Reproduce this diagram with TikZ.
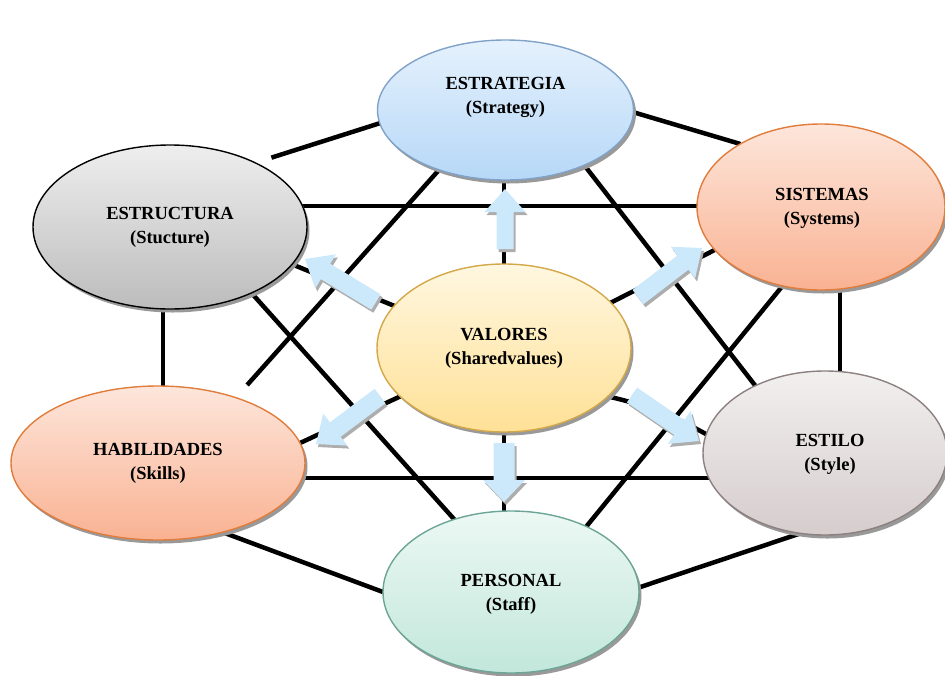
\documentclass[tikz,border=0pt]{standalone}
\usepackage{fontspec}
\setmainfont{Liberation Serif}
\usetikzlibrary{shapes.geometric,calc,shadows}

% fills and outlines of the seven ellipses
\definecolor{strtop}{RGB}{229,241,253}
\definecolor{strbot}{RGB}{182,216,247}
\definecolor{strline}{RGB}{128,162,200}
\definecolor{orgtop}{RGB}{253,230,219}
\definecolor{orgbot}{RGB}{249,178,146}
\definecolor{orgline}{RGB}{224,124,60}
\definecolor{grytop}{RGB}{238,238,238}
\definecolor{grybot}{RGB}{188,188,188}
\definecolor{valtop}{RGB}{255,247,224}
\definecolor{valbot}{RGB}{255,225,150}
\definecolor{valline}{RGB}{212,168,72}
\definecolor{esltop}{RGB}{242,239,239}
\definecolor{eslbot}{RGB}{214,205,205}
\definecolor{eslline}{RGB}{140,128,128}
\definecolor{pertop}{RGB}{236,248,244}
\definecolor{perbot}{RGB}{194,231,219}
\definecolor{perline}{RGB}{108,165,150}
\definecolor{flowblue}{RGB}{204,233,252}

% block arrow: #1 tail, #2 tip, #3 half shaft width, #4 half head width, #5 head length
\newcommand{\flowarrow}[5]{%
  \coordinate (fa-base) at ($(#2)!#5!(#1)$);
  \fill[flowshade, transform canvas={shift={(2pt,-3pt)}}]
    ($(#1)!#3!90:(#2)$) -- ($(fa-base)!#3!90:(#2)$) -- ($(fa-base)!#4!90:(#2)$) -- (#2)
    -- ($(fa-base)!#4!-90:(#2)$) -- ($(fa-base)!#3!-90:(#2)$) -- ($(#1)!#3!-90:(#2)$) -- cycle;
  \fill[flow]
    ($(#1)!#3!90:(#2)$) -- ($(fa-base)!#3!90:(#2)$) -- ($(fa-base)!#4!90:(#2)$) -- (#2)
    -- ($(fa-base)!#4!-90:(#2)$) -- ($(fa-base)!#3!-90:(#2)$) -- ($(#1)!#3!-90:(#2)$) -- cycle;
}

\tikzset{
  blob/.style={ellipse, inner sep=0pt, outer sep=0pt, line width=1.4pt,
    drop shadow={shadow xshift=2.5pt, shadow yshift=-3.5pt, fill=black!40, opacity=1}},
  tie/.style={line width=4.5pt, draw=black},
  caption/.style={font=\fontsize{18.5}{24}\selectfont\bfseries, align=center, inner sep=0pt},
  flow/.style={fill=flowblue},
  flowshade/.style={fill=black!32},
}

\begin{document}
\begin{tikzpicture}[x=1pt,y=-1pt]
\useasboundingbox (0,0) rectangle (945,675);

% ellipse positions (named first, drawn after the connectors)
\path
  (505.5,110) coordinate (str-c)
  (821,207)   coordinate (sis-c)
  (170,227)   coordinate (etu-c)
  (504,348)   coordinate (val-c)
  (158,463)   coordinate (hab-c)
  (825,453)   coordinate (esl-c)
  (511,592)   coordinate (per-c);

% invisible copies so that the connectors can use the ellipse anchors
\begin{scope}[every node/.style={ellipse, inner sep=0pt, outer sep=0pt}]
  \node[minimum width=256pt, minimum height=140pt] (str) at (str-c) {};
  \node[minimum width=248pt, minimum height=166pt] (sis) at (sis-c) {};
  \node[minimum width=274pt, minimum height=164pt] (etu) at (etu-c) {};
  \node[minimum width=254pt, minimum height=168pt] (val) at (val-c) {};
  \node[minimum width=294pt, minimum height=154pt] (hab) at (hab-c) {};
  \node[minimum width=244pt, minimum height=164pt] (esl) at (esl-c) {};
  \node[minimum width=256pt, minimum height=162pt] (per) at (per-c) {};
\end{scope}

% outer ring
\draw[tie, shorten <=17pt] (etu.37) -- (str.186);
\draw[tie] (str.359) -- (sis.142);
\draw[tie] (sis.283) -- (sis.283 |- esl.north);
\draw[tie] (esl.253) -- (per.2);
\draw[tie] (per.180) -- (hab.313);
\draw[tie] (etu.265) -- (etu.265 |- hab.north);

% long chords
\draw[tie] (etu.9) -- (etu.9 -| sis.west);
\draw[tie] (hab.354) -- (hab.354 -| esl.192);
\draw[tie, shorten >=17pt] (str.222) -- (hab.40);
\draw[tie] (str.325) -- (esl.136);
\draw[tie] (etu.321) -- (per.128);
\draw[tie] (sis.244) -- (per.41);

% spokes from the centre
\draw[tie] (val.north) -- (val.north |- str.south);
\draw[tie] (val.south) -- (val.south |- per.north);
\draw[tie] (etu.343) -- (val.159);
\draw[tie] (val.23) -- (sis.202);
\draw[tie] (val.205) -- (hab.8);
\draw[tie] (val.335) to[bend left=8] (esl.171);

% the ellipses
\node[blob, draw=strline, top color=strtop, bottom color=strbot,
  minimum width=256pt, minimum height=140pt] (str-e) at (str-c) {};
\node[blob, draw=orgline, top color=orgtop, bottom color=orgbot,
  minimum width=248pt, minimum height=166pt] (sis-e) at (sis-c) {};
\node[blob, draw=black, top color=grytop, bottom color=grybot,
  minimum width=274pt, minimum height=164pt] (etu-e) at (etu-c) {};
\node[blob, draw=valline, top color=valtop, bottom color=valbot,
  minimum width=254pt, minimum height=168pt] (val-e) at (val-c) {};
\node[blob, draw=orgline, top color=orgtop, bottom color=orgbot,
  minimum width=294pt, minimum height=154pt] (hab-e) at (hab-c) {};
\node[blob, draw=eslline, top color=esltop, bottom color=eslbot,
  minimum width=244pt, minimum height=164pt] (esl-e) at (esl-c) {};
\node[blob, draw=perline, top color=pertop, bottom color=perbot,
  minimum width=256pt, minimum height=162pt] (per-e) at (per-c) {};

% labels
\node[caption] (str-t) at (505.5,97) {ESTRATEGIA\\(Strategy)};
\node[caption] (sis-t) at (822,208) {SISTEMAS\\(Systems)};
\node[caption] (etu-t) at (170,227) {ESTRUCTURA\\(Stucture)};
\node[caption] (val-t) at (504,348) {VALORES\\(Sharedvalues)};
\node[caption] (hab-t) at (158,463) {HABILIDADES\\(Skills)};
\node[caption] (esl-t) at (830,454) {ESTILO\\(Style)};
\node[caption] (per-t) at (511,594) {PERSONAL\\(Staff)};

% block arrows out of the centre
\coordinate (up-tail) at (505,249);   \coordinate (up-tip) at (505,189);
\coordinate (dn-tail) at (504,443);   \coordinate (dn-tip) at (504,502);
\coordinate (ul-tail) at (376,302);   \coordinate (ul-tip) at (305,259);
\coordinate (ur-tail) at (638,297);   \coordinate (ur-tip) at (702,248);
\coordinate (ll-tail) at (380,396);   \coordinate (ll-tip) at (316,444);
\coordinate (lr-tail) at (632,395);   \coordinate (lr-tip) at (699,441);
\flowarrow{up-tail}{up-tip}{8.5pt}{20.5pt}{23pt}
\flowarrow{dn-tail}{dn-tip}{10.5pt}{21pt}{22pt}
\flowarrow{ul-tail}{ul-tip}{9pt}{20pt}{24pt}
\flowarrow{ur-tail}{ur-tip}{9pt}{20pt}{24pt}
\flowarrow{ll-tail}{ll-tip}{9pt}{20pt}{24pt}
\flowarrow{lr-tail}{lr-tip}{9pt}{20pt}{24pt}
\end{tikzpicture}
\end{document}
